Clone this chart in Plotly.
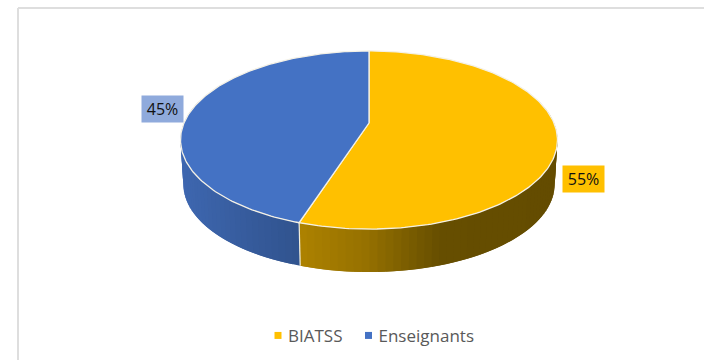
import math
import plotly.graph_objects as go

categories = ["BIATSS", "Enseignants"]
values = [55, 45]
labels = ["55%", "45%"]
top_colors = ["#FFC000", "#4472C4"]
label_colors = ["#FFC000", "#8FAADC"]
# side shading stops per slice: (horizontal fraction across the pie, colour)
side_stops = [
    [(0.30, (176, 132, 0)), (0.50, (150, 113, 0)), (0.70, (102, 78, 0)), (1.00, (100, 76, 0))],
    [(0.00, (62, 103, 176)), (0.31, (49, 84, 143))],
]

W, H = 704, 360
CX, CY, A, B, K = 369, 123, 185, 85.8, 0.191
DEPTH, BOTTOM_SCALE = 44.6, 0.985


def project(t_deg, scale=1.0, dy=0.0):
    t = math.radians(t_deg)
    sx, cz = math.sin(t), -math.cos(t)
    d = 1 - K * cz
    return CX + scale * A * sx / d, CY + dy + scale * B * cz / d


def arange(a, b, step):
    n = max(1, int(abs(b - a) / step))
    return [a + (b - a) * i / n for i in range(n + 1)]


def side_color(stops, frac):
    frac = min(max(frac, stops[0][0]), stops[-1][0])
    for (f0, c0), (f1, c1) in zip(stops, stops[1:]):
        if f0 <= frac <= f1:
            u = (frac - f0) / (f1 - f0)
            return "rgb(%d,%d,%d)" % tuple(round(p + (q - p) * u) for p, q in zip(c0, c1))
    return "rgb(%d,%d,%d)" % stops[-1][1]


fig = go.Figure()
total = sum(values)
spans = []
start = 0.0
for v in values:
    spans.append((start, start + 360.0 * v / total))
    start += 360.0 * v / total

# Side wall, strip by strip; each strip overlaps the next so no seams show
for (s, e), stops in zip(spans, side_stops):
    lo, hi = max(s, 75.0), min(e, 285.0)
    angs = arange(lo, hi, 2.0)
    for i in range(len(angs) - 1):
        a0, a1 = angs[i], angs[min(i + 2, len(angs) - 1)]
        arc = arange(a0, a1, 0.5)
        pts = [project(a) for a in arc] + [project(a, BOTTOM_SCALE, DEPTH) for a in reversed(arc)]
        xs = [p[0] for p in pts] + [pts[0][0]]
        ys = [p[1] for p in pts] + [pts[0][1]]
        frac = (project(angs[i])[0] - (CX - 188.5)) / 377
        col = side_color(stops, frac)
        fig.add_trace(go.Scatter(x=xs, y=ys, mode="lines", fill="toself", fillcolor=col,
                                 line=dict(color=col, width=0), showlegend=False, hoverinfo="skip"))

# Seam between the two slices on the side wall
sx0, sy0 = project(spans[0][1])
sx1, sy1 = project(spans[0][1], BOTTOM_SCALE, DEPTH)
fig.add_trace(go.Scatter(x=[sx0, sx1], y=[sy0, sy1], mode="lines",
                         line=dict(color="#F2EEDD", width=1.2), showlegend=False, hoverinfo="skip"))

# Top faces
for (s, e), col in zip(spans, top_colors):
    pts = [project(a) for a in arange(s, e, 1.0)]
    xs = [CX] + [p[0] for p in pts] + [CX]
    ys = [CY] + [p[1] for p in pts] + [CY]
    fig.add_trace(go.Scatter(x=xs, y=ys, mode="lines", fill="toself", fillcolor=col,
                             line=dict(color="#F4F1E6", width=1.3), showlegend=False, hoverinfo="skip"))

# Legend entries
for name, col in zip(categories, top_colors):
    fig.add_trace(go.Scatter(x=[None], y=[None], mode="markers", name=name,
                             marker=dict(symbol="square", size=7, color=col)))

annotations = []
for text, col, (lx, ly) in zip(labels, label_colors, [(583.5, 179), (162.5, 109)]):
    annotations.append(dict(x=lx, y=ly, xref="x", yref="y", text=text, showarrow=False,
                            bgcolor=col, width=39, height=24, borderpad=1, align="center",
                            font=dict(family="Open Sans", size=16, color="#111111")))

fig.update_layout(
    width=W, height=H, autosize=False,
    margin=dict(l=0, r=0, t=0, b=0),
    paper_bgcolor="white", plot_bgcolor="white",
    xaxis=dict(range=[0, W], visible=False, fixedrange=True),
    yaxis=dict(range=[H, 0], visible=False, fixedrange=True),
    annotations=annotations,
    shapes=[dict(type="line", xref="x", yref="y", x0=18, y0=360, x1=18, y1=8,
                 line=dict(color="#DEDEDE", width=2)),
            dict(type="line", xref="x", yref="y", x0=18, y0=8, x1=704, y1=8,
                 line=dict(color="#DEDEDE", width=2))],
    legend=dict(orientation="h", x=248 / W, xanchor="left", y=0.067, yanchor="middle",
                font=dict(family="Open Sans", size=17, color="#595959"),
                bgcolor="rgba(0,0,0,0)"),
    showlegend=True,
)

# Pull the legend swatches closer to their labels and tighten the entries, as in the reference
fig.write_html("out.html", config={"displayModeBar": False},
               post_script="document.body.style.margin='0';"
                           "document.querySelectorAll('.legend .traces .layers')"
                           ".forEach(function(g){g.setAttribute('transform','translate(10,0)');});"
                           "document.querySelectorAll('.legend .traces')"
                           ".forEach(function(g,i){if(i>0){g.setAttribute('transform',"
                           "'translate(-9,0) '+g.getAttribute('transform'));}});")
